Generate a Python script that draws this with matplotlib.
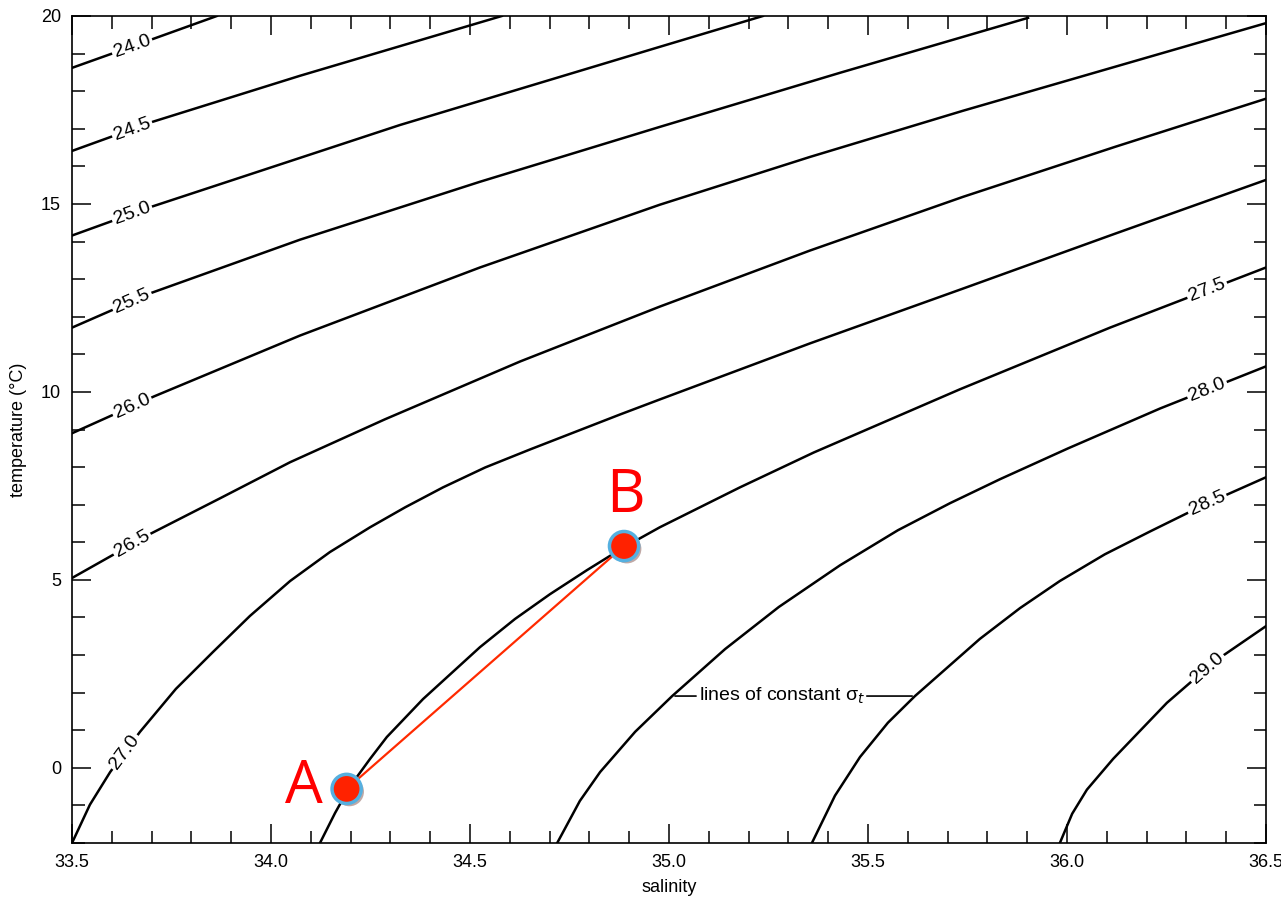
#!/usr/bin/env python3
"""T-S diagram with lines of constant sigma-t and a mixing line between two water masses."""

import numpy as np
import matplotlib
matplotlib.use('Agg')
import matplotlib.pyplot as plt
import matplotlib.patheffects as pe
from matplotlib.ticker import MultipleLocator, FormatStrFormatter
from matplotlib.transforms import ScaledTranslation

plt.rcParams['font.family'] = ['Liberation Sans', 'DejaVu Sans']

# Axis ranges
salinity_range = [33.5, 36.5]
temperature_range = [-2.0, 20.0]

# sigma-t lines as (salinity, temperature) points
sigma_levels = ['24.0', '24.5', '25.0', '25.5', '26.0', '26.5',
                '27.0', '27.5', '28.0', '28.5', '29.0']

sal_240 = [33.5, 33.696, 33.864]
tmp_240 = [18.62, 19.36, 20.0]

sal_245 = [33.5, 33.701, 34.073, 34.580]
tmp_245 = [16.41, 17.18, 18.41, 20.0]

sal_250 = [33.5, 33.701, 34.324, 34.977, 35.236]
tmp_250 = [14.16, 14.93, 17.10, 19.18, 20.0]

sal_255 = [33.5, 33.701, 34.073, 34.525, 34.977, 35.430, 35.902]
tmp_255 = [11.71, 12.64, 14.05, 15.59, 17.05, 18.49, 19.95]

sal_260 = [33.5, 33.706, 34.073, 34.525, 34.977, 35.354, 35.739, 36.121, 36.5]
tmp_260 = [8.90, 9.88, 11.50, 13.31, 14.98, 16.25, 17.48, 18.65, 19.81]

sal_265 = [33.5, 33.696, 33.872, 34.048, 34.286, 34.626, 34.977, 35.354,
           35.739, 36.121, 36.5]
tmp_265 = [5.05, 6.22, 7.17, 8.13, 9.27, 10.81, 12.27, 13.76,
           15.19, 16.52, 17.80]

sal_270 = [33.5, 33.545, 33.596, 33.633, 33.671, 33.761, 33.854, 33.947,
           34.048, 34.148, 34.249, 34.337, 34.432, 34.538, 34.651, 34.877,
           34.977, 35.354, 35.739, 36.121, 36.5]
tmp_270 = [-2.0, -0.98, -0.11, 0.42, 0.96, 2.10, 3.08, 4.04,
           4.97, 5.74, 6.40, 6.93, 7.46, 7.99, 8.47, 9.40,
           9.80, 11.29, 12.75, 14.21, 15.64]

sal_275 = [34.123, 34.161, 34.198, 34.249, 34.291, 34.382, 34.525, 34.613,
           34.701, 34.794, 34.887, 34.977, 35.178, 35.364, 35.731, 36.108, 36.5]
tmp_275 = [-2.0, -1.20, -0.50, 0.24, 0.82, 1.83, 3.21, 3.96,
           4.62, 5.26, 5.87, 6.40, 7.46, 8.39, 10.07, 11.71, 13.31]

sal_280 = [34.719, 34.776, 34.827, 34.915, 35.008, 35.141, 35.276, 35.430,
           35.575, 35.706, 35.832, 36.003, 36.234, 36.5]
tmp_280 = [-2.0, -0.88, -0.11, 0.96, 1.91, 3.16, 4.28, 5.39,
           6.32, 7.04, 7.68, 8.50, 9.56, 10.68]

sal_285 = [35.359, 35.417, 35.480, 35.550, 35.618, 35.781, 35.882, 35.982,
           36.095, 36.209, 36.347, 36.5]
tmp_285 = [-2.0, -0.74, 0.29, 1.20, 1.91, 3.43, 4.25, 4.97,
           5.68, 6.29, 7.01, 7.73]

sal_290 = [35.982, 36.013, 36.050, 36.116, 36.183, 36.251, 36.372, 36.5]
tmp_290 = [-2.0, -1.22, -0.58, 0.24, 0.98, 1.73, 2.84, 3.77]

sigma_salinity = [sal_240, sal_245, sal_250, sal_255, sal_260, sal_265,
                  sal_270, sal_275, sal_280, sal_285, sal_290]
sigma_temperature = [tmp_240, tmp_245, tmp_250, tmp_255, tmp_260, tmp_265,
                     tmp_270, tmp_275, tmp_280, tmp_285, tmp_290]

# salinity at which each line carries its label
label_salinity = [33.651, 33.651, 33.651, 33.651, 33.651, 33.651,
                  33.633, 36.352, 36.352, 36.352, 36.352]

# the two water masses
point_names = ['A', 'B']
point_salinity = [34.19, 34.887]
point_temperature = [-0.56, 5.90]

fig = plt.figure(figsize=(12.81, 8.98), dpi=100)
ax = fig.add_axes([0.0562, 0.0612, 0.9321, 0.9210])

for name, s_line, t_line, s_lab in zip(sigma_levels, sigma_salinity,
                                        sigma_temperature, label_salinity):
    ax.plot(s_line, t_line, color='black', linewidth=1.8,
            solid_joinstyle='round', zorder=2)
    t_lab = np.interp(s_lab, s_line, t_line)
    i = int(np.clip(np.searchsorted(s_line, s_lab), 1, len(s_line) - 1))
    angle = np.degrees(np.arctan2(t_line[i] - t_line[i - 1], s_line[i] - s_line[i - 1]))
    ax.text(s_lab, t_lab, name, fontsize=14, ha='center', va='center',
            rotation=angle, transform_rotates_text=True, rotation_mode='anchor',
            bbox=dict(facecolor='white', edgecolor='none', pad=1.5), zorder=3)

# note pointing at two of the lines
ax.text(35.284, 1.91, 'lines of constant σ$_t$', fontsize=14,
        ha='center', va='center')
ax.annotate('', xy=(35.008, 1.91), xytext=(35.075, 1.91),
            arrowprops=dict(arrowstyle='-', lw=1.2, color='black'))
ax.annotate('', xy=(35.618, 1.91), xytext=(35.49, 1.91),
            arrowprops=dict(arrowstyle='-', lw=1.2, color='black'))

# mixing line and water masses
ax.plot(point_salinity, point_temperature, color='#ff2a00', linewidth=1.6, zorder=4)
ax.plot(point_salinity, point_temperature, linestyle='none', marker='o',
        markersize=21, markerfacecolor='#ff2200', markeredgecolor='#55b0e0',
        markeredgewidth=2.5, zorder=5,
        path_effects=[pe.SimplePatchShadow(offset=(2, -2), alpha=0.35), pe.Normal()])
name_offsets = [(-0.108, 0.06), (0.003, 1.33)]
for name, s, t, (ds, dt) in zip(point_names, point_salinity, point_temperature, name_offsets):
    ax.text(s + ds, t + dt, name, color='#ff0000', fontsize=43,
            family=['Open Sans', 'DejaVu Sans'], ha='center', va='center', zorder=6)

# axes and ticks
ax.set_xlim(salinity_range)
ax.set_ylim(temperature_range)
ax.xaxis.set_major_locator(MultipleLocator(0.5))
ax.xaxis.set_minor_locator(MultipleLocator(0.1))
ax.xaxis.set_major_formatter(FormatStrFormatter('%.1f'))
ax.yaxis.set_major_locator(MultipleLocator(5))
ax.yaxis.set_minor_locator(MultipleLocator(1))
ax.tick_params(which='both', direction='in', top=True, right=True, labelsize=13, width=1.1)
ax.tick_params(which='major', length=14, pad=8)
ax.tick_params(which='minor', length=9)
for spine in ax.spines.values():
    spine.set_linewidth(1.2)

# keep the last salinity label inside the picture
last = ax.get_xticklabels()[-1]
last.set_transform(last.get_transform() + ScaledTranslation(-5 / 72, 0, fig.dpi_scale_trans))

ax.set_xlabel('salinity', fontsize=13, labelpad=6)
ax.set_ylabel('temperature (°C)', fontsize=13, labelpad=10)

fig.savefig('out.png', dpi=100)
